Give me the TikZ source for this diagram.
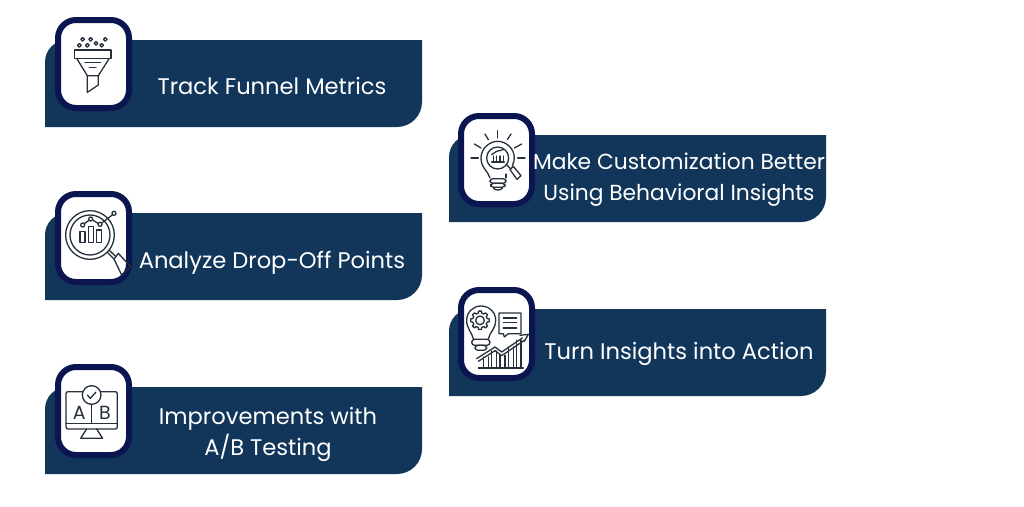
\documentclass[tikz,border=0pt]{standalone}
\usepackage{fontspec}
\setmainfont{Poppins}
\usetikzlibrary{positioning}
\definecolor{bannerblue}{HTML}{12365A}
\definecolor{boxnavy}{HTML}{0B1650}
\definecolor{iconink}{HTML}{26303C}
\tikzset{
  iconbox/.style={draw=boxnavy, fill=white, line width=6pt, rounded corners=18pt, minimum width=71pt, minimum height=88pt, inner sep=0pt},
  label/.style={text=white, font=\fontsize{22.6pt}{31pt}\selectfont, align=center, inner sep=0pt},
  icon/.style={x=0.3333pt, y=-0.3333pt, draw=iconink, line width=1.3pt, line cap=round, line join=round},
}
\newcommand{\banner}[2]{%
  \fill[bannerblue] (#1,#2+87) -- (#1,#2+22) arc[start angle=180, end angle=90, radius=22pt] -- (#1+377,#2) -- (#1+377,#2+62) arc[start angle=0, end angle=-90, radius=25pt] -- cycle;}
\begin{document}
\begin{tikzpicture}[x=1pt, y=-1pt]
  \useasboundingbox (0,0) rectangle (1024,506);
  % Banners
  \banner{45}{40}
  \banner{45}{213}
  \banner{45}{387}
  \banner{449}{135}
  \banner{449}{309}

  % Icon frames
  \node (funnelbox)  [iconbox] at (93.5,64) {};
  \node (dropbox)    [iconbox] at (93.5,238) {};
  \node (abbox)      [iconbox] at (93.5,411) {};
  \node (bulbbox)    [iconbox] at (496.5,160) {};
  \node (actionbox)  [iconbox] at (496.5,334) {};

  % Labels
  \node (funnel) [label] at (272,86) {Track Funnel Metrics};
  \node (drop)   [label] at (272,263) {Analyze Drop-Off Points};
  \node (ab)     [label] at (268,434) {Improvements with\\A/B Testing};
  \node (bulb)   [label, font=\fontsize{21.8pt}{31pt}\selectfont] at (679,180) {Make Customization Better\\Using Behavioral Insights};
  \node (action) [label] at (679,354) {Turn Insights into Action};

  % Funnel icon
  \begin{scope}[shift={(30,5)}, icon]
    \foreach \px/\py in {158/103, 182/103, 226/103, 148/121, 172/121, 198/115, 215/121}
      \draw (\px,\py) circle (5.5);
    \draw (133,135) -- (243,135) -- (243,160) -- (133,160) -- cycle;
    \draw (140,160) -- (172,212) -- (205,212) -- (238,160);
    \draw (172,212) -- (172,262) -- (205,240) -- (205,212);
    \draw (165,172) -- (212,172);
    \draw (178,188) -- (198,188);
  \end{scope}

  % Magnifier icon
  \begin{scope}[shift={(40,185)}, icon]
    \draw (150,150) circle (73);
    \draw (150,150) circle (60);
    \draw (120,140) rectangle (135,172);
    \draw (145,125) rectangle (160,172);
    \draw (170,135) rectangle (185,172);
    \draw (128,120) circle (6);
    \draw (152,102) circle (6);
    \draw (180,118) circle (6);
    \draw (222,85) circle (6);
    \draw (133,116) -- (147,106);
    \draw (158,105) -- (174,115);
    \draw (185,114) -- (217,90);
    \draw (202,202) -- (222,222);
    \draw (207,195) -- (228,215);
    \draw (222,222) -- (235,205) -- (272,245) -- (245,270) -- cycle;
  \end{scope}

  % A/B monitor icon
  \begin{scope}[shift={(40,360)}, icon]
    \draw[rounded corners=2pt] (127,95) -- (78,95) -- (78,207) -- (232,207) -- (232,95) -- (183,95);
    \draw (78,190) -- (232,190);
    \draw (155,133) -- (155,190);
    \draw (155,105) circle (28);
    \draw (142,105) -- (151,115) -- (168,96);
    \draw (140,207) -- (122,235) -- (188,235) -- (170,207);
    \node (letterA) [text=iconink, font=\fontsize{19pt}{19pt}\selectfont, inner sep=0pt] at (118,158) {A};
    \node (letterB) [text=iconink, font=\fontsize{19pt}{19pt}\selectfont, inner sep=0pt] at (195,158) {B};
  \end{scope}

  % Bulb icon
  \begin{scope}[shift={(445,108)}, icon]
    \draw (158,68) -- (158,90);
    \draw (120,78) -- (130,95);
    \draw (198,78) -- (187,95);
    \draw (88,108) -- (108,120);
    \draw (230,108) -- (208,120);
    \draw (78,150) -- (100,150);
    \draw (218,150) -- (240,150);
    \draw (135,210) .. controls (130,190) and (108,180) .. (108,150) .. controls (108,120) and (135,100) .. (158,100) .. controls (182,100) and (208,120) .. (208,150) .. controls (208,160) and (205,165) .. (202,172);
    \draw (183,210) -- (183,198);
    \draw (158,150) circle (33);
    \draw (185,170) -- (197,183);
    \draw (195,185) -- (205,175) -- (228,203) -- (216,214) -- cycle;
    \draw[rounded corners=3pt] (135,212) rectangle (183,226);
    \draw[rounded corners=3pt] (137,226) rectangle (180,238);
    \draw (145,240) .. controls (150,248) and (168,248) .. (172,240);
    \draw (140,162) -- (178,162);
    \foreach \px in {145,155,165,175}
      \draw (\px,162) -- (\px,144);
    \draw (140,140) -- (155,130) -- (175,125);
  \end{scope}

  % Insight to action icon
  \begin{scope}[shift={(445,282)}, icon]
    \draw (85,170) .. controls (80,150) and (65,140) .. (65,115) .. controls (65,90) and (85,72) .. (108,72) .. controls (132,72) and (152,90) .. (152,115) .. controls (152,140) and (135,150) .. (130,170);
    \draw (105,115) circle (13);
    \begin{scope}[shift={(105,115)}]
      \draw (-14:22) foreach \a in {0,45,...,315} {-- (\a-14:22) -- (\a-9:28) -- (\a+9:28) -- (\a+14:22)} -- cycle;
    \end{scope}
    \draw[rounded corners=3pt] (80,172) rectangle (135,190);
    \draw[rounded corners=3pt] (90,190) rectangle (125,205);
    \draw (162,93) -- (228,93) -- (228,155) -- (190,155) -- (178,165) -- (175,155) -- (162,155) -- cycle;
    \foreach \py in {108,122,138}
      \draw (175,\py) -- (215,\py);
    \draw (95,230) -- (150,195) -- (170,210) -- (232,168);
    \draw (100,238) -- (150,206) -- (170,221) -- (238,175);
    \draw (225,160) -- (250,157) -- (238,178);
    \draw (100,258) -- (235,258);
    \foreach \xa/\xb/\yt in {115/130/225, 140/155/207, 165/180/220, 190/205/195, 215/228/175}
      \draw (\xa,258) -- (\xa,\yt) (\xb,258) -- (\xb,\yt);
  \end{scope}
\end{tikzpicture}
\end{document}
